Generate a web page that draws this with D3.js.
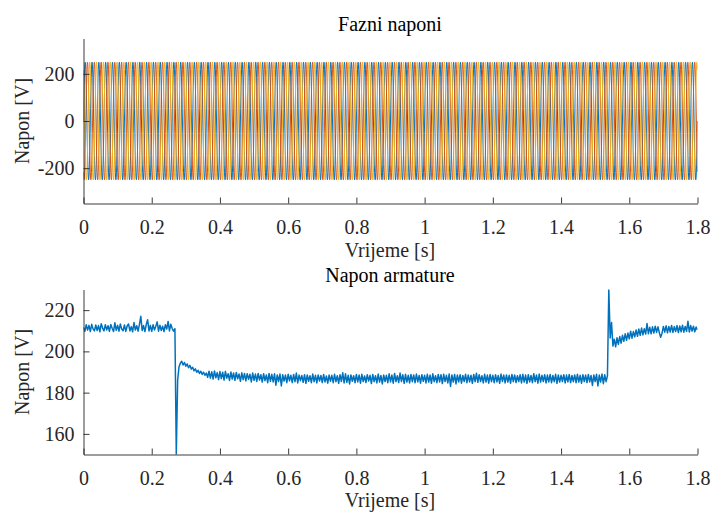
<!DOCTYPE html>
<html><head><meta charset="utf-8">
<script src="https://cdn.jsdelivr.net/npm/d3@7"></script>
<style>
body{margin:0;background:#fff}
svg text{font-family:"Liberation Serif","DejaVu Serif","Noto Serif",serif;}
</style>
</head><body>
<svg id="c" width="712" height="512"></svg>
<script>
// ---- Data ----
// One 20 ms cycle of each phase voltage (30 samples); repeated for each cycle
const phaseACycle = [0,52,102,147,186,217,238,249,249,238,217,186,147,102,52,0,-52,-102,-147,-186,-217,-238,-249,-249,-238,-217,-186,-147,-102,-52];
const phaseBCycle = [-217,-238,-249,-249,-238,-217,-186,-147,-102,-52,0,52,102,147,186,217,238,249,249,238,217,186,147,102,52,0,-52,-102,-147,-186];
const phaseCCycle = [217,186,147,102,52,0,-52,-102,-147,-186,-217,-238,-249,-249,-238,-217,-186,-147,-102,-52,0,52,102,147,186,217,238,249,249,238];
const cycleCount = 90;
const cyclePeriod = 0.02;

// Armature voltage sampled every 4 ms from 0 to 1.8 s
const armatureStep = 0.004;
const armatureValues = [
  211.6,209.7,212.9,210.3,212.6,209.6,213.1,210.9,209.9,212.8,
  210.1,212.5,209.5,213.4,211.3,209.9,212.9,210.4,212.4,209.7,
  213.0,211.2,209.6,213.9,210.2,212.6,209.8,213.3,210.8,210.0,
  212.8,209.7,212.3,213.3,209.9,212.0,209.5,214.0,210.3,212.4,
  209.8,213.1,217.0,210.1,212.5,209.6,213.0,215.3,209.9,212.6,
  209.7,212.9,210.4,212.2,214.3,209.8,212.7,210.1,212.2,209.6,
  212.9,210.8,214.5,209.9,213.2,211.1,209.8,211.0,
  150.0,
  186.0,192.5,194.3,195.2,193.4,194.6,192.8,193.9,192.1,193.2,
  191.4,192.3,190.6,191.5,189.9,190.8,189.3,190.4,188.8,189.9,
  188.4,189.5,
  187.4,190.4,187.0,190.1,186.6,190.5,187.2,189.7,186.3,190.2,
  186.8,189.9,186.1,190.3,187.0,189.2,185.9,190.0,186.6,189.5,
  186.0,189.8,186.7,189.0,185.5,189.6,186.3,189.3,185.7,189.2,
  186.4,188.9,185.2,189.5,186.0,189.0,185.4,189.3,186.1,188.7,
  185.1,189.2,185.8,188.6,184.8,189.3,185.5,188.9,185.2,189.1,
  183.6,188.6,185.4,189.0,183.2,188.7,185.6,188.5,184.8,188.9,
  185.7,188.4,184.9,188.8,185.3,189.5,184.7,188.5,185.8,188.3,
  185.0,188.7,184.5,188.6,185.5,188.2,184.8,189.0,185.3,188.4,
  184.7,188.6,185.6,188.3,184.9,188.8,185.2,188.1,184.6,188.5,
  185.5,188.4,184.8,188.9,185.3,188.2,184.5,188.7,185.4,189.6,
  184.7,189.1,185.0,188.4,184.2,188.6,185.5,188.2,184.8,188.8,
  185.2,188.5,184.6,188.9,185.4,188.1,184.9,188.7,185.6,188.4,
  184.4,188.8,185.3,188.2,184.7,189.0,185.1,188.3,184.2,188.6,
  185.4,188.4,184.8,189.1,185.2,188.5,184.6,189.3,185.3,188.2,
  184.9,189.5,185.4,188.7,184.5,188.9,185.1,188.4,184.7,188.8,
  185.3,188.6,184.8,189.0,185.2,188.3,184.6,188.7,185.5,188.4,
  184.7,188.9,185.1,188.5,184.5,189.1,185.3,188.2,184.8,188.8,
  185.2,188.7,184.4,188.9,185.4,188.4,184.7,189.0,183.0,188.6,
  185.1,188.8,184.2,188.5,185.2,188.7,184.6,188.3,185.4,188.9,
  184.8,188.6,185.2,188.4,184.5,188.8,185.3,189.4,185.0,188.7,
  185.4,188.2,184.7,188.9,185.1,188.5,184.6,188.8,185.3,188.4,
  184.8,188.7,185.2,188.3,184.5,189.0,185.4,188.5,184.7,188.6,
  185.1,188.4,184.6,188.8,185.3,188.6,184.9,188.2,185.4,188.7,
  184.7,188.9,185.1,188.5,184.5,188.7,185.2,188.3,184.8,189.2,
  185.3,188.6,184.6,189.0,185.1,188.4,185.4,188.7,184.7,188.5,
  185.2,188.8,184.8,188.3,185.3,188.9,184.5,188.6,185.1,188.4,
  185.4,188.7,184.7,188.5,185.2,188.8,184.9,188.3,185.3,188.6,
  184.8,188.9,185.1,188.4,184.6,188.7,185.4,188.5,184.9,188.8,
  185.2,188.3,183.5,188.6,185.4,188.9,183.2,188.5,185.1,189.0,
  184.3,188.7,185.3,188.1,
  230.0,206.5,214.0,202.6,205.9,
  202.2,206.6,203.4,207.2,204.0,
  207.8,204.9,208.5,205.4,208.9,
  206.1,209.8,206.4,209.6,207.1,
  210.4,207.3,210.8,207.8,211.3,
  208.0,211.0,208.4,213.5,208.6,
  211.7,208.5,211.9,208.9,212.2,
  209.2,211.9,209.1,206.8,208.8,
  212.1,209.3,212.4,209.0,212.1,
  209.4,212.6,209.2,212.0,209.6,
  212.5,209.1,212.3,209.5,212.7,
  209.3,212.1,209.7,214.6,209.4,
  212.5,209.8,212.2,209.5,211.8,
  210.4
];

const xTicks = [0,0.2,0.4,0.6,0.8,1,1.2,1.4,1.6,1.8];
const xTickLabels = ["0","0.2","0.4","0.6","0.8","1","1.2","1.4","1.6","1.8"];
const topYTicks = [-200,0,200];
const topYLabels = ["-200","0","200"];
const botYTicks = [160,180,200,220];
const botYLabels = ["160","180","200","220"];
const topTitle = "Fazni naponi";
const botTitle = "Napon armature";
const xLabel = "Vrijeme [s]";
const yLabel = "Napon [V]";
const phaseColors = ["#0072BD","#D95319","#EDB120"];

// ---- Build series ----
function tile(cycle){
  const pts=[];
  const n=cycle.length;
  for(let c=0;c<cycleCount;c++){
    for(let k=0;k<n;k++){
      pts.push([c*cyclePeriod + k*cyclePeriod/n, cycle[k]]);
    }
  }
  pts.push([cycleCount*cyclePeriod, cycle[0]]);
  return pts;
}
const phases=[tile(phaseACycle),tile(phaseBCycle),tile(phaseCCycle)];
const armature=armatureValues.map((v,i)=>[i*armatureStep,v]);

// ---- Draw ----
const FONT='"Liberation Serif","DejaVu Serif","Noto Serif",serif';
const svg=d3.select("#c");
const X0=83.5, X1=697.5;
const axisColor="#262626";

function panel(o){
  const x=d3.scaleLinear().domain([0,1.8]).range([X0,X1]);
  const y=d3.scaleLinear().domain(o.yDomain).range([o.bottom,o.top]);
  const g=svg.append("g").attr("font-family",FONT);
  const clipId="clip"+o.id;
  g.append("clipPath").attr("id",clipId).append("rect")
    .attr("x",X0).attr("y",o.top).attr("width",X1-X0).attr("height",o.bottom-o.top);
  const line=d3.line().x(d=>x(d[0])).y(d=>y(d[1]));
  const lg=g.append("g").attr("clip-path",`url(#${clipId})`);
  o.series.forEach((s,i)=>{
    lg.append("path").attr("d",line(s)).attr("fill","none")
      .attr("stroke",o.colors[i]).attr("stroke-width",o.lw).attr("stroke-linejoin","round");
  });
  const xa=d3.axisBottom(x).tickValues(xTicks).tickFormat((d,i)=>xTickLabels[i])
    .tickSizeInner(-6).tickSizeOuter(0).tickPadding(16);
  const gx=g.append("g").attr("transform",`translate(0,${o.bottom})`).call(xa);
  const ya=d3.axisLeft(y).tickValues(o.yTicks).tickFormat((d,i)=>o.yLabels[i])
    .tickSizeInner(-6).tickSizeOuter(0).tickPadding(9);
  const gy=g.append("g").attr("transform",`translate(${X0},0)`).call(ya);
  [gx,gy].forEach(a=>{
    a.attr("font-family",FONT).attr("font-size",20);
    a.select(".domain").attr("stroke",axisColor).attr("stroke-width",0.9);
    a.selectAll(".tick line").attr("stroke",axisColor).attr("stroke-width",0.9);
    a.selectAll(".tick text").attr("fill",axisColor).attr("font-family",FONT).attr("font-size",20);
  });
  g.append("text").attr("x",390).attr("y",o.titleY).attr("text-anchor","middle")
    .attr("font-family",FONT).attr("font-size",20).attr("fill","#000").text(o.title);
  g.append("text").attr("x",390).attr("y",o.xLabelY).attr("text-anchor","middle")
    .attr("font-family",FONT).attr("font-size",20).attr("fill",axisColor).text(xLabel);
  g.append("text").attr("transform",`translate(29,${(o.top+o.bottom)/2}) rotate(-90)`)
    .attr("text-anchor","middle").attr("font-family",FONT).attr("font-size",20)
    .attr("fill",axisColor).text(yLabel);
}

panel({id:1,top:38.5,bottom:203.5,yDomain:[-350,350],yTicks:topYTicks,yLabels:topYLabels,
  series:phases,colors:phaseColors,lw:1,title:topTitle,titleY:31,xLabelY:257});
panel({id:2,top:289.5,bottom:454.5,yDomain:[150,230],yTicks:botYTicks,yLabels:botYLabels,
  series:[armature],colors:[phaseColors[0]],lw:1.5,title:botTitle,titleY:282,xLabelY:507});
</script>
</body></html>
